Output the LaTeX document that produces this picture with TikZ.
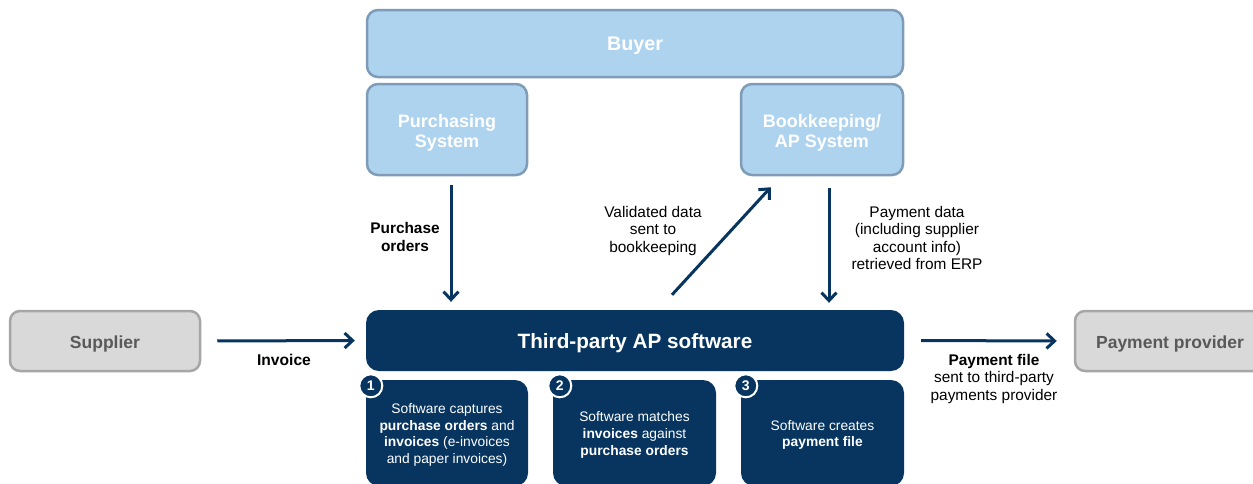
\documentclass[tikz,border=0pt]{standalone}
\usepackage{fontspec}
\setmainfont{Liberation Sans}
\usetikzlibrary{arrows.meta,calc}
\definecolor{navy}{HTML}{07355F}
\definecolor{lblue}{HTML}{AED3EF}
\definecolor{lbord}{HTML}{7E9CB8}
\definecolor{gfill}{HTML}{D9D9D9}
\definecolor{gbord}{HTML}{A6A6A6}
\definecolor{gtext}{HTML}{595959}
\tikzset{
  bluebox/.style={draw=lbord, fill=lblue, line width=2.5pt, rounded corners=11pt, inner sep=0pt},
  bluetxt/.style={text=white, align=center, font=\fontsize{18}{20}\selectfont\bfseries, inner sep=0pt},
  navybox/.style={fill=navy, draw=none, rounded corners=13pt, inner sep=0pt},
  navytxt/.style={text=white, align=center, inner sep=0pt, font=\fontsize{13.8}{16.7}\selectfont},
  greybox/.style={draw=gbord, fill=gfill, line width=2.5pt, rounded corners=10pt, inner sep=0pt},
  greytxt/.style={text=gtext, font=\fontsize{17.5}{19}\selectfont\bfseries, inner sep=0pt},
  flow/.style={draw=navy, line width=3pt, -{Straight Barb[length=8pt,width=15pt,line width=3pt]}},
  lbl/.style={align=center, text=black, font=\fontsize{15.4}{17.5}\selectfont, inner sep=0pt},
  numc/.style={circle, fill=navy, draw=white, line width=2pt, minimum size=23pt, inner sep=0pt,
    text=white, font=\fontsize{14}{14}\selectfont\bfseries}
}
\begin{document}
\begin{tikzpicture}[x=1pt,y=-1pt]
\clip (0,0) rectangle (1253,483);
\fill[white] (0,0) rectangle (1253,483);

% Buyer side
\node[bluebox, minimum width=536pt, minimum height=67pt] (buyer) at (635,43.5) {};
\node[bluetxt, font=\fontsize{19.7}{21}\selectfont\bfseries] (tbuyer) at ([yshift=-2.5pt]buyer.center) {Buyer};
\node[bluebox, minimum width=160pt, minimum height=91pt] (purch) at (447,129.5) {};
\node[bluetxt] (tpurch) at ([yshift=-3pt]purch.center) {Purchasing\\System};
\node[bluebox, minimum width=162pt, minimum height=91pt] (book) at (822,129.5) {};
\node[bluetxt] (tbook) at ([yshift=-3pt]book.center) {Bookkeeping/\\AP System};

% AP software
\node[navybox, minimum width=538pt, minimum height=61pt] (ap) at (635,340.5) {};
\node[navytxt, font=\fontsize{20.7}{22}\selectfont\bfseries] (tap) at ([yshift=-3pt]ap.center) {Third-party AP software};

\node[navybox, minimum width=162pt, minimum height=106pt] (s1) at (447,433) {};
\node[navytxt] (ts1) at ([yshift=-2pt]s1.center) {Software captures\\\textbf{purchase orders} and\\\textbf{invoices} (e-invoices\\and paper invoices)};
\node[navybox, minimum width=163pt, minimum height=106pt] (s2) at (634.5,433) {};
\node[navytxt] (ts2) at ([yshift=-2pt]s2.center) {Software matches\\\textbf{invoices} against\\\textbf{purchase orders}};
\node[navybox, minimum width=163pt, minimum height=106pt] (s3) at (822.5,433) {};
\node[navytxt] (ts3) at ([yshift=-2pt]s3.center) {Software creates\\\textbf{payment file}};

\node[numc] (n1) at ([xshift=5pt,yshift=-6pt]s1.north west) {1};
\node[numc] (n2) at ([xshift=7pt,yshift=-6pt]s2.north west) {2};
\node[numc] (n3) at ([xshift=5pt,yshift=-6pt]s3.north west) {3};

% outer parties
\node[greybox, minimum width=190pt, minimum height=60pt] (sup) at (105,341) {};
\node[greytxt] (tsup) at ([yshift=-2.5pt]sup.center) {Supplier};
\node[greybox, minimum width=190pt, minimum height=60pt] (pp) at (1170,341) {};
\node[greytxt] (tpp) at ([yshift=-2.5pt]pp.center) {Payment provider};

% connectors
\draw[flow, shorten <=16pt, shorten >=11pt] (sup.east) -- (ap.west);
\draw[flow, shorten <=17pt, shorten >=17pt] (ap.east) -- (pp.west);
\draw[flow, shorten <=9pt, shorten >=8pt] ([xshift=4pt]purch.south) -- ([xshift=4pt]purch.south |- ap.north);
\draw[flow, shorten <=12pt, shorten >=7pt] ([xshift=7pt]book.south) -- ([xshift=7pt]book.south |- ap.north);
\draw[flow] ([xshift=37pt,yshift=15pt]ap.north) -- ([xshift=31pt,yshift=-11pt]book.south west);

% labels
\node[lbl, font=\fontsize{15.6}{17.5}\selectfont\bfseries] (linv) at (284,360) {Invoice};
\node[lbl, font=\fontsize{15.4}{18}\selectfont\bfseries] (lpo) at (405,237) {Purchase\\orders};
\node[lbl] (lval) at (653,231) {Validated data\\sent to\\bookkeeping};
\node[lbl] (lpay) at (917,238) {Payment data\\(including supplier\\account info)\\retrieved from ERP};
\node[lbl] (lfile) at (994,379) {\textbf{Payment file}\\sent to third-party\\payments provider};
\end{tikzpicture}
\end{document}
